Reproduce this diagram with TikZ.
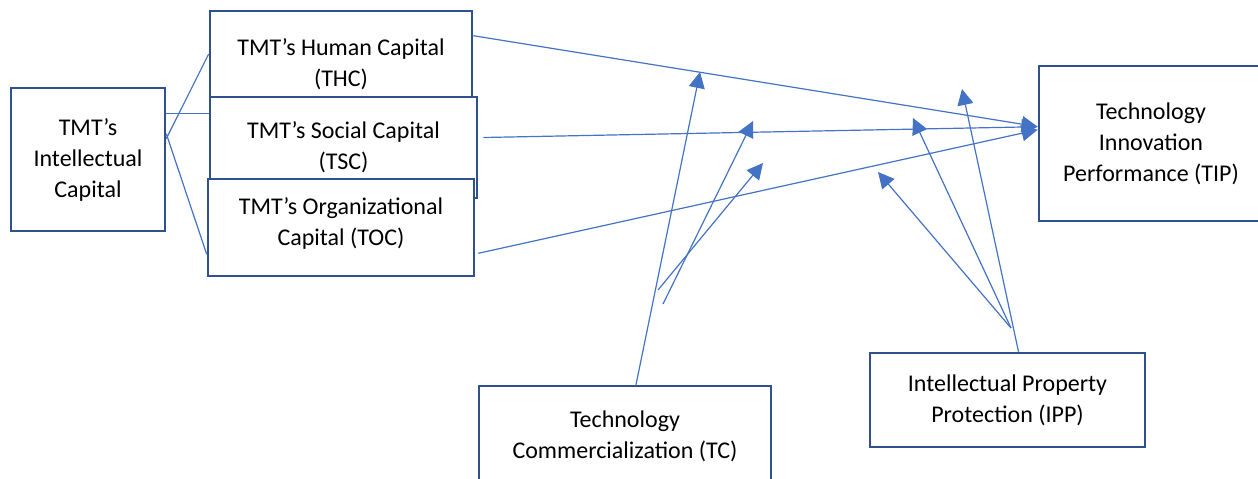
\documentclass[tikz,border=0pt]{standalone}
\usepackage{fontspec}
\setmainfont{Carlito}
\usetikzlibrary{arrows.meta,calc}
\definecolor{boxblue}{RGB}{47,82,143}
\definecolor{lineblue}{RGB}{68,114,196}
\tikzset{
  box/.style ={draw=boxblue, line width=2.6pt, fill=white, align=center,
               inner sep=2pt, font=\fontsize{24}{31}\selectfont},
  link/.style={draw=lineblue, line width=1.2pt},
  fl/.style  ={link, -{Triangle[length=16pt,width=16pt]}},
}
\begin{document}
\begin{tikzpicture}[x=1pt, y=-1pt]
  \useasboundingbox (0,0) rectangle (1258,479);

  % intellectual capital and its three parts
  \node[box, minimum width=154pt, minimum height=143pt](ic) at (88,159.5)
        {TMT's\\Intellectual\\Capital};
  \node[box, minimum width=262pt, minimum height=86pt](thc) at (341,54)
        {\rule{0pt}{38pt}TMT's Human Capital\\(THC)};
  \node[box, minimum width=267pt, minimum height=101pt](tsc) at (343.5,147.5)
        {TMT's Social Capital\\(TSC)};
  \node[box, minimum width=266pt, minimum height=97pt](toc) at (341,227.5)
        {TMT's Organizational\\Capital (TOC)\rule[-11pt]{0pt}{11pt}};

  % outcome and moderators
  \node[box, minimum width=224pt, minimum height=155pt](tip) at (1151,143.5)
        {Technology\\Innovation\\Performance (TIP)};
  \node[box, minimum width=292pt, minimum height=101pt](tc) at (625,436.5)
        {Technology\\Commercialization (TC)};
  \node[box, minimum width=275pt, minimum height=94pt](ipp) at (1007.5,400)
        {Intellectual Property\\Protection (IPP)};

  % links from the parent box
  \draw[link] ($(ic.north east)+(0,52)$) -- (thc.west);
  \draw[link] ($(ic.north east)+(0,27)$) coordinate(icm) -- (icm -| tsc.west);
  \draw[link] ($(ic.north east)+(0,47)$) -- ($(toc.south west)+(0,-23)$);

  % paths into TIP
  \coordinate (tipin)  at ($(tip.north west)+(0,62)$);
  \coordinate (tipin2) at ($(tip.north west)+(0,65)$);
  \draw[fl] ($(thc.north east)+(0,26)$) -- (tipin);
  \draw[fl] ($(tsc.east)+(5,-10)$) -- (tipin);
  \draw[fl] ($(toc.south east)+(3,-24)$) -- (tipin2);

  % TC arrows
  \coordinate (tcA)  at (700,72);
  \coordinate (tcB0) at (663,304); \coordinate (tcB) at (753,121);
  \coordinate (tcC0) at (658,290); \coordinate (tcC) at (763,163);
  \draw[fl] ($(tc.north)+(11,0)$) -- (tcA);
  \draw[fl] (tcB0) -- (tcB);
  \draw[fl] (tcC0) -- (tcC);

  % IPP arrows
  \coordinate (ippJ) at (1011,328);
  \coordinate (ippA) at (962,89);
  \coordinate (ippB) at (913,118);
  \coordinate (ippC) at (878,172);
  \draw[fl] ($(ipp.north)+(11,0)$) -- (ippA);
  \draw[fl] (ippJ) -- (ippB);
  \draw[fl] (ippJ) -- (ippC);
\end{tikzpicture}
\end{document}
